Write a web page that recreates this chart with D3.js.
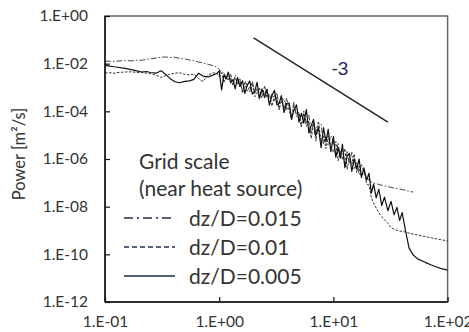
<!DOCTYPE html>
<html><head><meta charset="utf-8">
<script src="https://cdn.jsdelivr.net/npm/d3@7"></script>
<style>body{margin:0;background:#fff;} svg{display:block}</style>
</head><body><svg id="c" width="469" height="332"></svg>
<script>
// Frequency grid (x values)
const freq = [
  0.10,0.11,0.12,0.13,0.14,0.15,0.17,0.19,0.21,0.23,
  0.25,0.28,0.31,0.34,0.37,0.41,0.45,0.50,0.55,0.60,
  0.66,0.72,0.80,0.88,0.96,
  1.0,1.05,1.1,1.15,1.2,1.26,1.32,1.38,1.45,1.52,
  1.6,1.68,1.76,1.85,1.95,2.05,2.15,2.25,2.37,2.5,
  2.62,2.75,2.9,3.05,3.2,3.35,3.5,3.7,3.9,4.1,
  4.3,4.5,4.75,5.0,5.25,5.5,5.8,6.1,6.4,6.7,
  7.0,7.4,7.8,8.2,8.6,9.0,9.5,
  10,10.5,11,11.5,12,12.6,13.2,13.8,14.5,15.2,
  16,16.8,17.6,18.5,19.5,20.5,21.5,22.5,23.7,25,
  26.5,28,30,32,34,36,38,40,43,46,
  50,55,60,66,72,80,88,96,100
];
// log10 of power
const logPow015 = [
  -1.89,-1.90,-1.91,-1.89,-1.88,-1.87,-1.88,-1.85,-1.86,-1.82,
  -1.80,-1.76,-1.73,-1.72,-1.74,-1.73,-1.78,-1.80,-1.85,-1.88,
  -1.93,-1.97,-2.03,-2.08,-2.15,
  -2.23,-2.43,-2.35,-2.64,-2.47,-2.63,-2.88,-2.48,-2.90,-2.71,
  -3.17,-2.72,-2.90,-3.19,-2.74,-3.24,-3.03,-3.51,-3.04,-3.27,
  -3.04,-3.59,-3.26,-3.56,-3.21,-3.94,-3.59,-3.46,-3.96,-3.74,
  -4.25,-3.61,-4.23,-4.09,-4.65,-4.09,-4.48,-4.16,-4.92,-4.51,
  -5.25,-4.63,-4.53,-5.35,-5.06,-5.43,-5.03,
  -5.26,-5.87,-5.32,-5.91,-5.58,-6.31,-5.69,-6.16,-5.72,-6.44,
  -6.12,-6.65,-6.20,-6.52,-6.75,-6.90,-6.96,-7.00,-7.03,-7.07,
  -7.10,-7.13,-7.16,-7.19,-7.22,-7.24,-7.26,-7.28,-7.32,-7.35,
  -7.39,null,null,null,null,null,null,null,null
];
const logPow010 = [
  -2.39,-2.38,-2.40,-2.37,-2.36,-2.35,-2.34,-2.37,-2.36,-2.40,
  -2.42,-2.48,-2.58,-2.50,-2.44,-2.40,-2.38,-2.45,-2.47,-2.44,
  -2.62,-2.75,-2.48,-2.38,-2.42,
  -2.55,-2.38,-2.80,-2.52,-2.71,-2.42,-2.91,-2.61,-2.83,-2.64,
  -3.24,-2.83,-3.15,-2.98,-2.81,-3.39,-3.21,-3.00,-3.44,-2.93,
  -3.42,-3.28,-3.78,-3.32,-3.49,-3.86,-3.38,-3.88,-3.45,-3.96,
  -4.34,-3.78,-4.14,-4.04,-4.65,-3.99,-4.63,-4.41,-5.14,-4.39,
  -4.92,-4.41,-5.30,-5.01,-5.56,-5.04,-5.47,
  -5.71,-5.27,-6.07,-5.66,-6.03,-5.56,-6.44,-5.91,-6.22,-5.79,
  -6.57,-6.30,-6.80,-6.47,-7.05,-7.10,-7.62,-7.85,-8.05,-8.25,
  -8.42,-8.55,-8.70,-8.88,-8.95,-8.99,-9.02,-9.04,-9.07,-9.11,
  -9.15,-9.19,-9.23,-9.27,-9.31,-9.35,-9.39,-9.42,-9.44
];
const logPow005 = [
  -2.06,-2.10,-2.13,-2.15,-2.18,-2.20,-2.25,-2.30,-2.35,-2.33,
  -2.37,-2.40,-2.30,-2.45,-2.62,-2.76,-2.80,-2.74,-2.72,-2.66,
  -2.40,-2.52,-2.56,-2.48,-2.40,
  -2.30,-3.10,-2.47,-2.64,-2.35,-2.81,-2.67,-3.06,-2.58,-2.96,
  -2.72,-3.25,-2.90,-2.73,-3.28,-3.14,-2.78,-3.44,-3.07,-3.42,
  -3.08,-3.74,-3.34,-3.12,-3.73,-3.66,-3.34,-4.05,-3.66,-3.65,
  -4.34,-3.96,-3.73,-4.45,-4.08,-4.49,-3.93,-4.91,-4.59,-4.34,
  -5.03,-4.68,-5.52,-4.68,-5.28,-4.76,-5.69,
  -5.06,-5.92,-5.52,-5.96,-5.38,-6.36,-5.89,-5.76,-6.52,-5.99,
  -6.42,-6.00,-6.75,-6.37,-6.90,-6.60,-7.43,-7.05,-7.63,-7.27,
  -7.95,-7.60,-8.17,-7.78,-8.34,-8.03,-8.58,-8.25,-9.06,-9.74,
  -10.03,-10.20,-10.28,-10.37,-10.45,-10.53,-10.60,-10.64,-10.66
];
const xTickValues = [0.1, 1, 10, 100];
const xTickLabels = ["1.E-01","1.E+00","1.E+01","1.E+02"];
const yTickValues = [1, 1e-2, 1e-4, 1e-6, 1e-8, 1e-10, 1e-12];
const yTickLabels = ["1.E+00","1.E-02","1.E-04","1.E-06","1.E-08","1.E-10","1.E-12"];
const legendTitle = ["Grid scale", "(near heat source)"];
const legendLabels = ["dz/D=0.015", "dz/D=0.01", "dz/D=0.005"];
const slopeFreq = [2, 30];
const slopePow = [0.12, 3.5e-5];
const slopeLabel = "-3";

const svg = d3.select("#c");
const L = 105, R = 447.6, T = 16, B = 302;
const x = d3.scaleLog().domain([0.1, 100]).range([L, R]);
const y = d3.scaleLog().domain([1e-12, 1]).range([B, T]);
const font = "Lato, 'Open Sans', sans-serif";

svg.append("defs").append("clipPath").attr("id","clip")
  .append("rect").attr("x",L).attr("y",T).attr("width",R-L).attr("height",B-T);

// frame
svg.append("rect").attr("x",L).attr("y",T).attr("width",R-L).attr("height",B-T)
  .attr("fill","none").attr("stroke","#666").attr("stroke-width",1.5);

const series = [
  {vals: logPow015, dash: "6,2,1.5,2", color: "#444", w: 1.0},
  {vals: logPow010, dash: "2.5,1.5", color: "#333", w: 1.0},
  {vals: logPow005, dash: null, color: "#111", w: 1.2}
];
const line = d3.line().x(d => x(d[0])).y(d => y(d[1]));
const g = svg.append("g").attr("clip-path","url(#clip)");
series.forEach(s => {
  const pts = freq.map((f,i) => [f, s.vals[i] == null ? null : Math.pow(10, s.vals[i])]).filter(d => d[1] != null);
  g.append("path").datum(pts).attr("d", line).attr("fill","none")
    .attr("stroke", s.color).attr("stroke-width", s.w)
    .attr("stroke-dasharray", s.dash).attr("stroke-linejoin","round");
});

// slope line
svg.append("path").datum(slopeFreq.map((f,i)=>[f, slopePow[i]])).attr("d", line)
  .attr("stroke","#222").attr("stroke-width",1.4).attr("fill","none");
svg.append("text").attr("x",340).attr("y",75).attr("text-anchor","middle")
  .attr("font-family","'Liberation Sans', Arial, sans-serif").attr("font-size",19)
  .attr("fill","#1f2a5c").text(slopeLabel);

// axes
const yAxis = d3.axisLeft(y).tickValues(yTickValues).tickSizeInner(-5).tickSizeOuter(0)
  .tickPadding(17).tickFormat((d,i) => yTickLabels[i]);
const ya = svg.append("g").attr("transform",`translate(${L},0)`).call(yAxis);
const xAxis = d3.axisBottom(x).tickValues(xTickValues).tickSizeInner(-5).tickSizeOuter(0)
  .tickPadding(14).tickFormat((d,i) => xTickLabels[i]);
const xa = svg.append("g").attr("transform",`translate(0,${B})`).call(xAxis);
[ya, xa].forEach(a => {
  a.select(".domain").remove();
  a.selectAll("line").attr("stroke","#111").attr("stroke-width",1.2);
  a.selectAll("text").attr("font-family",font).attr("font-size",15.5).attr("fill","#333");
});
// left and bottom axis lines
svg.append("line").attr("x1",L).attr("x2",L).attr("y1",T).attr("y2",B).attr("stroke","#111").attr("stroke-width",1.5);
svg.append("line").attr("x1",L).attr("x2",R).attr("y1",B).attr("y2",B).attr("stroke","#111").attr("stroke-width",1.5);

// y label
svg.append("text").attr("transform","translate(25,154) rotate(-90)").attr("text-anchor","middle")
  .attr("font-family",font).attr("font-size",16.5).attr("fill","#333").text("Power [m²/s]");

// legend
legendTitle.forEach((t,i) => {
  svg.append("text").attr("x",139).attr("y",169 + i*27).attr("font-family",font)
    .attr("font-size",21).attr("fill","#333").text(t);
});
const legDash = ["9,4,2,4", "5,3", null];
legendLabels.forEach((t,i) => {
  const by = [226, 255, 284][i];
  svg.append("line").attr("x1",124).attr("x2",175).attr("y1",by-8).attr("y2",by-8)
    .attr("stroke","#1f2d50").attr("stroke-width",1.6).attr("stroke-dasharray",legDash[i]);
  svg.append("text").attr("x",189).attr("y",by).attr("font-family",font)
    .attr("font-size",21).attr("fill","#333").text(t);
});
</script></body></html>
